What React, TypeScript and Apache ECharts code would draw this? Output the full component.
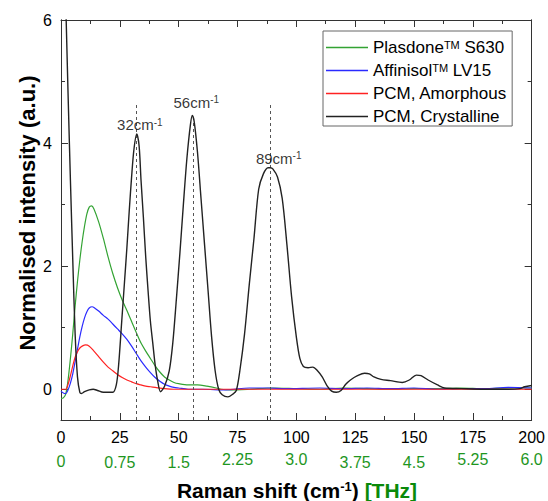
import React, { useEffect, useRef } from "react";
import * as echarts from "echarts";

const FONT = "'Liberation Sans', Arial, sans-serif";

// Raman shift (cm-1) vs normalised intensity
const plasdone: number[][] = [[0,-0.15],[1,-0.14],[2,-0.08],[3,0.15],[4,0.5],[5,0.9],[6,1.35],[7,1.75],[8,2.1],[9,2.4],[10,2.65],[11,2.85],[12,2.96],[13,2.98],[14,2.93],[16,2.72],[18,2.45],[20,2.15],[22,1.88],[24,1.65],[26,1.45],[28,1.28],[30,1.1],[32,0.92],[34,0.75],[36,0.62],[38,0.5],[40,0.38],[42,0.28],[44,0.2],[46,0.15],[48,0.11],[50,0.09],[54,0.07],[58,0.07],[62,0.05],[66,0.02],[68,0.0],[72,-0.01],[80,0.0],[90,0.02],[100,0.01],[110,0.0],[120,0.02],[130,0.01],[140,0.0],[150,0.01],[160,0.01],[170,0.02],[180,0.01],[190,0.02],[200,0.02]];

const affinisol: number[][] = [[0,-0.03],[1,-0.06],[2,-0.07],[3,-0.01],[4,0.1],[5,0.25],[6,0.45],[7,0.65],[8,0.85],[9,1.02],[10,1.16],[11,1.26],[12,1.32],[13.2,1.34],[14,1.33],[16,1.27],[18,1.2],[20,1.14],[22,1.06],[24,0.98],[26,0.9],[28,0.81],[30,0.7],[32,0.58],[34,0.46],[36,0.36],[38,0.27],[40,0.19],[42,0.13],[44,0.08],[46,0.05],[48,0.03],[50,0.02],[54,0.0],[60,0.0],[70,-0.01],[80,0.02],[88,0.02],[95,0.01],[110,0.02],[120,0.01],[130,0.02],[140,0.01],[150,0.02],[160,0.0],[170,0.01],[180,0.01],[190,0.03],[200,0.02]];

const pcmAmorphous: number[][] = [[0,0.0],[2,0.0],[3,0.08],[4,0.22],[5,0.38],[6,0.52],[7,0.61],[8,0.67],[9,0.7],[10.5,0.72],[12,0.7],[14,0.62],[16,0.53],[18,0.44],[20,0.36],[22,0.3],[24,0.24],[26,0.19],[28,0.15],[30,0.12],[32,0.09],[34,0.07],[36,0.05],[38,0.04],[40,0.03],[44,0.01],[48,0.0],[100,0.0],[150,0.0],[200,0.0]];

const pcmCrystalline: number[][] = [[0,9.3],[1,7.7],[2.2,6.0],[3,4.8],[4,3.4],[5,2.1],[6,0.9],[7,0.2],[8,-0.05],[8.7,-0.07],[10,-0.04],[12,-0.01],[13.7,0.0],[15.5,-0.02],[18,-0.05],[20.5,-0.05],[22,-0.05],[23.5,0.07],[24.5,0.4],[25.8,1.1],[27,1.75],[28,2.3],[29,2.9],[30,3.45],[31,3.9],[32.2,4.15],[33.2,3.95],[34,3.4],[35,2.8],[36,2.15],[37,1.6],[38,1.1],[39,0.75],[40,0.4],[41,0.15],[42.3,-0.04],[44,0.05],[46,0.3],[47.5,0.75],[49,1.45],[50.5,2.2],[52,3.0],[53.5,3.75],[55,4.3],[55.8,4.45],[56.6,4.35],[58,3.85],[59.5,3.1],[61,2.35],[62.5,1.6],[64,0.85],[65.5,0.3],[67,0.0],[68.5,-0.09],[70.9,-0.125],[73,-0.08],[74.5,-0.02],[76,0.3],[78,0.9],[80,1.7],[82,2.45],[84,3.25],[86,3.5],[88,3.6],[89,3.6],[90,3.58],[92,3.45],[94,3.1],[96,2.35],[98,1.5],[100,0.85],[101.5,0.5],[103,0.37],[105,0.35],[107,0.36],[109,0.3],[111,0.2],[113,0.06],[115,-0.03],[117,-0.05],[119,-0.02],[121,0.08],[123,0.15],[126,0.22],[129,0.26],[131,0.25],[133,0.2],[136,0.16],[140,0.14],[145,0.11],[148,0.15],[151,0.23],[153,0.22],[156,0.15],[160,0.07],[163,0.02],[170,0.01],[180,0.0],[190,0.0],[195,0.01],[197,0.04],[200,0.06]];

const seriesNames = ["Plasdone S630", "Affinisol LV15", "PCM, Amorphous", "PCM, Crystalline"];
const legendLabels = ["Plasdone{sup|TM} S630", "Affinisol{sup|TM} LV15", "PCM, Amorphous", "PCM, Crystalline"];
const seriesColors = ["#33a333", "#2a2aff", "#ff2222", "#222222"];

// marked peaks
const peakPositions = [32, 56, 89];
const peakLineTop = [4.65, 4.45, 4.65];
const peakLabelAt: number[][] = [[33.5, 4.3], [57.5, 4.66], [92.5, 3.75]];

// axis ticks
const yMajorTicks = [0, 2, 4, 6];
const yMinorTicks = [1, 3, 5];
const thzLabels = ["0", "0.75", "1.5", "2.25", "3.0", "3.75", "4.5", "5.25", "6.0"];
const thzLabelDrop = [2, 3, 3, 0, 0, 3, 3, 0, 0];

export default function App() {
  const ref = useRef<HTMLDivElement>(null);
  useEffect(() => {
    if (!ref.current) return;
    const chart = echarts.init(ref.current, null, { renderer: "svg" });
    const axisLineStyle = { color: "#333", width: 1 };
    const yBase = (pos: string, ticks: number[], len: number, labels: boolean) => ({
      type: "value",
      min: -0.5,
      max: 6,
      position: pos,
      offset: 0,
      axisLine: { show: true, onZero: false, lineStyle: axisLineStyle },
      axisTick: { show: true, inside: true, length: len, customValues: ticks, lineStyle: axisLineStyle },
      axisLabel: labels
        ? { show: true, customValues: ticks, fontSize: 16, color: "#000", fontFamily: FONT, margin: 9 }
        : { show: false },
      splitLine: { show: false },
    });
    const xBase = (pos: string, labels: boolean) => ({
      type: "value",
      min: 0,
      max: 200,
      interval: 25,
      position: pos,
      axisLine: { show: true, onZero: false, lineStyle: axisLineStyle },
      axisTick: { show: true, inside: true, length: 7, lineStyle: axisLineStyle },
      minorTick: { show: true, splitNumber: 2, length: 4, lineStyle: axisLineStyle },
      axisLabel: labels
        ? { show: true, fontSize: 16, color: "#000", fontFamily: FONT, margin: 9 }
        : { show: false },
      splitLine: { show: false },
      minorSplitLine: { show: false },
    });
    const lineSeries = (i: number, data: number[][]) => ({
      name: seriesNames[i],
      type: "line",
      data,
      showSymbol: false,
      symbol: "none",
      smooth: 0.3,
      clip: true,
      lineStyle: { color: seriesColors[i], width: i === 3 ? 1.4 : 1.2 },
      itemStyle: { color: seriesColors[i] },
      z: 2 + i,
    });
    const black: any = lineSeries(3, pcmCrystalline);
    black.markLine = {
      silent: true,
      symbol: "none",
      label: { show: false },
      lineStyle: { color: "#555", type: [3, 3], width: 1 },
      data: peakPositions.map((p, i) => [{ coord: [p, -0.5] }, { coord: [p, peakLineTop[i]] }]),
    };
    chart.setOption({
      animation: false,
      backgroundColor: "#fff",
      grid: { left: 61, right: 16, top: 20, bottom: 81, containLabel: false },
      xAxis: [
        xBase("bottom", true),
        xBase("top", false),
        {
          type: "category",
          data: thzLabels.map((v, i) => ({ value: v, textStyle: { padding: [thzLabelDrop[i], 0, 0, 0] } })),
          boundaryGap: false,
          position: "bottom",
          offset: 22,
          axisLine: { show: false },
          axisTick: { show: false },
          axisLabel: { show: true, interval: 0, fontSize: 16, color: "#1e961e", fontFamily: FONT, margin: 9 },
          splitLine: { show: false },
        },
      ],
      yAxis: [
        yBase("left", yMajorTicks, 7, true),
        yBase("left", yMinorTicks, 4, false),
        yBase("right", yMajorTicks, 7, false),
        yBase("right", yMinorTicks, 4, false),
      ],
      legend: {
        data: seriesNames,
        orient: "vertical",
        left: 323,
        top: 31,
        padding: [8, 5, 1, 3],
        itemGap: 6,
        itemWidth: 42,
        itemHeight: 1.4,
        icon: "rect",
        backgroundColor: "#fff",
        borderColor: "#666",
        borderWidth: 1,
        borderRadius: 0,
        formatter: (name: string) => legendLabels[seriesNames.indexOf(name)],
        textStyle: {
          fontSize: 17,
          fontFamily: FONT,
          color: "#000",
          lineHeight: 17,
          rich: {
            sup: { fontSize: 11, fontFamily: FONT, color: "#000", verticalAlign: "top", lineHeight: 11 },
          },
        },
      },
      series: [
        lineSeries(0, plasdone),
        lineSeries(1, affinisol),
        lineSeries(2, pcmAmorphous),
        black,
        {
          type: "scatter",
          name: "peaks",
          data: peakLabelAt,
          symbolSize: 0,
          silent: true,
          z: 10,
          label: {
            show: true,
            position: "inside",
            color: "#000",
            formatter: (p: any) => `{n|${peakPositions[p.dataIndex]}cm}{s|-1}`,
            rich: {
              n: { fontSize: 15, fontFamily: FONT, color: "#000" },
              s: { fontSize: 10, fontFamily: FONT, color: "#000", verticalAlign: "top", lineHeight: 10 },
            },
          },
        },
      ],
      graphic: [
        {
          type: "text",
          x: 27,
          y: 213,
          rotation: Math.PI / 2,
          style: {
            text: "Normalised intensity (a.u.)",
            align: "center",
            verticalAlign: "middle",
            fontSize: 22,
            fontWeight: "bold",
            fontFamily: FONT,
            fill: "#000",
          },
        },
        {
          type: "text",
          x: 297,
          y: 490,
          style: {
            text: "{b|Raman shift (cm}{bs|-1}{b|) }{g|[THz]}",
            align: "center",
            verticalAlign: "middle",
            rich: {
              b: { fontSize: 21, fontWeight: "bold", fontFamily: FONT, fill: "#000", color: "#000" },
              bs: { fontSize: 13, fontWeight: "bold", fontFamily: FONT, fill: "#000", color: "#000", verticalAlign: "top", lineHeight: 13 },
              g: { fontSize: 21, fontWeight: "bold", fontFamily: FONT, fill: "#0a8a0a", color: "#0a8a0a" },
            },
          },
        },
      ],
    });
    return () => chart.dispose();
  }, []);
  return (
    <div
      ref={ref}
      style={{ position: "fixed", left: 0, top: 0, width: 548, height: 501, background: "#fff" }}
    />
  );
}
